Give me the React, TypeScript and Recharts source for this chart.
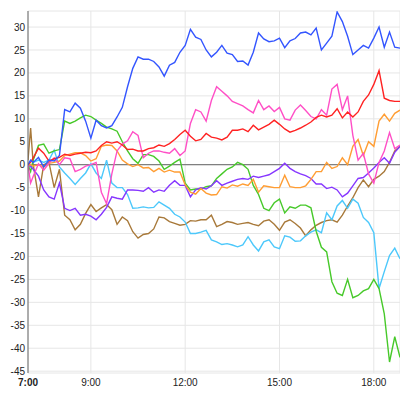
import React from 'react';
import { LineChart, Line, XAxis, YAxis, CartesianGrid, ReferenceLine } from 'recharts';

// minutes after 7:00
const times = [0, 5, 10, 20, 30, 40, 50,
  60, 70, 80, 90, 100, 110,
  120, 130, 140, 150, 160, 170,
  180, 190, 200, 210, 220, 230,
  240, 250, 260, 270, 280, 290,
  300, 310, 320, 330, 340, 350,
  360, 370, 380, 390, 400, 410,
  420, 430, 440, 450, 460, 470,
  480, 490, 500, 510, 520, 530,
  540, 550, 560, 570, 580, 590,
  600, 610, 620, 630, 640, 650,
  660, 670, 680, 690, 700, 710];

const blue = [0, 1, 0.5, 1.6, -0.5, 1, 0.8,
  2, 12, 11.5, 13.4, 12.3, 9.5,
  5.8, 9.7, 8.5, 8, 8.5, 10.4,
  12.5, 17, 21, 23.5, 23, 23,
  22.5, 21.3, 19.3, 21.7, 22.3, 24.5,
  26, 29.5, 27.8, 27.3, 25, 23.5,
  24.5, 26, 24.3, 24, 22.5, 22.6,
  21.7, 24.5, 28.7, 27.4, 26.8, 27,
  27.6, 25.5, 27, 27.5, 28.7, 28.9,
  28.3, 29.8, 25, 26.5, 28, 33.3,
  31.2, 28, 24, 25, 26, 25.4,
  27.6, 30, 25.6, 28.9, 25.6, 25.4];

const red = [0, 0.5, 1.5, 3.6, 2.5, 0.8, 1.3,
  1.6, 2.3, 2, 2.3, 2.5, 2.7,
  2.6, 3, 4.2, 5, 4.7, 5,
  4.3, 3.3, 3.4, 3, 3, 3.5,
  3.7, 4.3, 4, 4.6, 5.5, 6.6,
  7.5, 6.2, 5.2, 5.5, 6.8, 6,
  5.8, 5.4, 6, 7.5, 7.5, 7.8,
  7.2, 8.6, 7.6, 8.2, 8.8, 9.7,
  8.8, 7.8, 7.1, 7.5, 8, 8.6,
  9.3, 10.3, 10.8, 10.4, 10.8, 12.2,
  10.2, 11.5, 10.4, 11.5, 13.8, 15.2,
  17.5, 20.5, 14.5, 14, 13.8, 13.8];

const pink = [0, -4, -2.5, 0.2, -1.2, 0.3, 1.5,
  0, 1.5, 1.3, -1.5, -1, -0.3,
  0, 0.5, -6, -8.5, -2, 3,
  4.5, 5.2, 7.2, 6.4, 1.5, 2.5,
  3, 3, 2.7, 2.5, 3.5, 2,
  3, 9, 12, 11.5, 9.5, 14,
  17, 16, 15, 13.8, 13.3, 12.8,
  12, 11.3, 14, 12, 12.8, 11.6,
  12.5, 10, 9.7, 11.9, 13, 11.8,
  10.5, 10, 12, 10.8, 16.5, 17.5,
  12, 15, 6.4, 1, 2.5, -2,
  -4, 0.5, 3, 7, 3.5, 4.3];

const orange = [0, 0, -0.3, 0, -0.5, 0.3, 0.5,
  0.8, 2, 2.3, 2.6, 2.6, 2,
  0.8, 1.3, 4, 4.3, 4.2, 3,
  1, 0.2, -0.4, 0, -0.7, -0.6,
  -1.5, -0.8, -1.6, -1.2, -1.6, -1.6,
  -4.4, -6, -6.4, -5.2, -6.2, -6.6,
  -6.5, -4.8, -5.1, -4.4, -4.7, -4.2,
  -4.5, -3.2, -6, -4.6, -4.8, -5,
  -5, -2.3, -4.8, -5, -5, -4.6,
  -3.2, -1.5, -1.5, 0.5, -0.8, -0.4,
  1.5, 0, 4, 5.5, 2, 5,
  4, 9.5, 11, 9.5, 11.2, 11.9];

const purple = [0, -0.3, -1, -2.5, -5.5, -7, -7.5,
  -4, -9.5, -10, -9.5, -11, -10.8,
  -11.2, -12, -10.8, -9.3, -7, -7.3,
  -7.5, -5.5, -5.5, -5.6, -5.8, -5,
  -6, -5.5, -5.8, -4.5, -3.5, -4.5,
  -4.5, -7, -5.5, -5, -5.3, -4.6,
  -3.5, -4.5, -4, -3.6, -3.2, -3,
  -3.2, -2.5, -2.8, -2.5, -2.2, -1.5,
  -0.8, 0.3, -0.8, -1.5, -2, -2.4,
  -3, -4.2, -4.2, -5.2, -4.9, -5.5,
  -7, -6.2, -4.6, -3, -2.8, -1.8,
  -0.7, 0.5, 1.5, 0.3, 2.7, 4];

const brown = [1, 8, 0, -7, 0, 0.5, -5,
  -1, -11, -12, -14.2, -13, -10.6,
  -8.7, -10.2, -9.4, -8.7, -9.8, -13,
  -11.4, -12.2, -14.6, -16, -15.2, -15,
  -14, -11.4, -11.6, -12.4, -12.8, -13.2,
  -13, -12.2, -12.3, -12, -12, -11,
  -13.5, -13, -12.4, -12.6, -13, -12.8,
  -12.6, -13, -13.3, -12.3, -12, -13,
  -14.3, -12.5, -12, -12.8, -13.8, -15.5,
  -14.2, -13.2, -12.6, -12.2, -12, -12.5,
  -11, -9, -7.2, -5, -3.3, -4.8,
  -3.2, -2.5, -1.5, 0.5, 3, 4];

const cyan = [0, -0.5, 0.5, 1, 0.5, 1, 3.2,
  -0.5, -1.8, -3, -4.3, -3, -1.8,
  0.2, -1.8, -3, 1, -4, -5,
  -5, -6.5, -9.5, -9.4, -9.2, -9.4,
  -9.3, -8.1, -8.8, -9.5, -10.8, -11.4,
  -12.5, -15, -15, -14.7, -14.3, -16.4,
  -16.8, -17.4, -17.2, -17.5, -17.9, -17.5,
  -15.7, -17.5, -18.8, -16.8, -16.4, -17.9,
  -18.3, -15.5, -15.8, -16.7, -16.6, -15.5,
  -14.7, -14.2, -14.8, -10.5, -12, -9,
  -7.8, -9.5, -7.5, -8.4, -11.5, -12.6,
  -14.8, -27, -23.3, -19.8, -18.2, -20.5];

const green = [0, -1.5, 1, 4.2, 4.5, 2.5, 3,
  3.3, 9.5, 9, 9.5, 10.2, 10.8,
  10.5, 9.7, 9, 8.2, 7.8, 7.3,
  5, 3, 1.3, 0.3, 2.2, 2.2,
  1.8, 0.8, -1, -0.3, 0.5, 1.2,
  -4, -5.5, -5.3, -5.3, -4.8, -4.6,
  -3, -2, -1, -0.5, 0.5, 0,
  -1, -4.5, -6.5, -9.5, -10, -8.3,
  -7.5, -10.5, -9.2, -9.5, -8.8, -8.8,
  -9.4, -14.5, -18, -19, -25.5, -28,
  -28.5, -25, -29, -28.5, -27.5, -27,
  -25, -27, -32.5, -43, -37.5, -42];

const xTicks = [0, 120, 300, 480, 660];
const yTicks = [-45, -40, -35, -30, -25, -20, -15, -10, -5, 0, 5, 10, 15, 20, 25, 30];

const series = [
  { key: 'brown', values: brown, color: '#a8793a' },
  { key: 'cyan', values: cyan, color: '#4cc8fb' },
  { key: 'green', values: green, color: '#47c92a' },
  { key: 'purple', values: purple, color: '#8636ff' },
  { key: 'orange', values: orange, color: '#ff9d33' },
  { key: 'pink', values: pink, color: '#ff4fc6' },
  { key: 'red', values: red, color: '#ff2222' },
  { key: 'blue', values: blue, color: '#3355ff' },
];

const data = times.map((t, i) => {
  const row: Record<string, number> = { t };
  series.forEach((s) => { row[s.key] = s.values[i]; });
  return row;
});

const FONT = '"Liberation Sans", Arial, Helvetica, sans-serif';

const XTick = (props: any) => {
  const { x, y, payload } = props;
  const v = payload.value as number;
  const label = `${7 + Math.round(v / 60)}:00`;
  return (
    <text x={x} y={y} dy="0.71em" textAnchor="middle" fontSize={10}
      fontFamily={FONT} fill="#222" fontWeight={v === 0 ? 'bold' : 'normal'}>
      {label}
    </text>
  );
};

export default function App() {
  return (
    <div style={{ position: 'absolute', left: 0, top: 0, width: 400, height: 400, background: '#fff' }}>
      <LineChart width={400} height={400} data={data}
        margin={{ top: 11, right: 0, bottom: 7, left: 0 }}>
        <CartesianGrid stroke="#e6e6e6" strokeWidth={1} />
        <XAxis dataKey="t" type="number" domain={[0, 710]} ticks={xTicks}
          tick={<XTick />} tickLine={false} axisLine={false} height={20}
          tickSize={4} tickMargin={2} interval={0} allowDataOverflow />
        <YAxis type="number" domain={[-45.4, 33.5]} ticks={yTicks} width={28}
          tickLine={false} tickSize={2} tickMargin={1} interval={0}
          axisLine={{ stroke: '#666', strokeWidth: 1 }}
          tick={{ fontSize: 10, fill: '#222', fontFamily: FONT }} allowDataOverflow />
        <ReferenceLine y={0} stroke="#808080" strokeWidth={1.3} />
        {series.map((s) => (
          <Line key={s.key} dataKey={s.key} stroke={s.color} strokeWidth={1.4}
            dot={false} isAnimationActive={false} type="linear" />
        ))}
      </LineChart>
    </div>
  );
}
